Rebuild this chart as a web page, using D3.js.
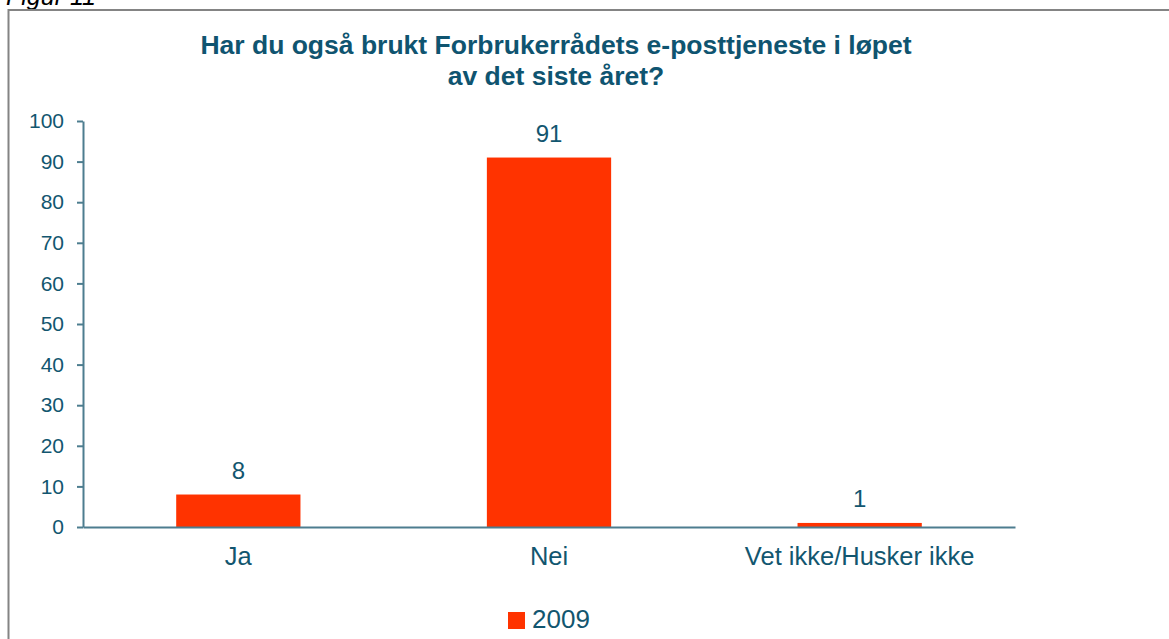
<!DOCTYPE html>
<html>
<head>
<meta charset="utf-8">
<script src="https://cdn.jsdelivr.net/npm/d3@7"></script>
<style>
  body { margin: 0; background: #fff; }
  svg { display: block; font-family: "Liberation Sans", Arial, sans-serif; }
</style>
</head>
<body>
<script>
const categories = ["Ja", "Nei", "Vet ikke/Husker ikke"];
const values2009 = [8, 91, 1];
const yTicks = [0, 10, 20, 30, 40, 50, 60, 70, 80, 90, 100];
const seriesName = "2009";
const titleLines = ["Har du også brukt Forbrukerrådets e-posttjeneste i løpet", "av det siste året?"];

const width = 1169, height = 639;
const textColor = "#12566f";
const axisColor = "#4d7d8f";
const barColor = "#ff3300";

const svg = d3.select("body").append("svg")
    .attr("width", width)
    .attr("height", height);

// caption, partly above the page in the original
svg.append("text")
    .attr("x", 6)
    .attr("y", 5)
    .style("font-size", "25px")
    .style("font-style", "italic")
    .attr("fill", "#000")
    .text("Figur 11");

// frame
svg.append("rect")
    .attr("x", 8.5)
    .attr("y", 10)
    .attr("width", 1200)
    .attr("height", 700)
    .attr("fill", "none")
    .attr("stroke", "#848484")
    .attr("stroke-width", 2);

const margin = { left: 83, right: 1015, top: 121, bottom: 527 };

const x = d3.scaleBand()
    .domain(categories)
    .range([margin.left, margin.right])
    .paddingInner(0.6)
    .paddingOuter(0.3);

const y = d3.scaleLinear()
    .domain([0, 100])
    .range([margin.bottom, margin.top]);

// title
svg.append("text")
    .attr("text-anchor", "middle")
    .attr("fill", "#0f5470")
    .style("font-size", "26.5px")
    .style("font-weight", "bold")
    .selectAll("tspan")
    .data(titleLines)
    .join("tspan")
    .attr("x", 556)
    .attr("y", (d, i) => 54 + i * 31)
    .text(d => d);

// bars
svg.selectAll("rect.bar")
    .data(values2009)
    .join("rect")
    .attr("class", "bar")
    .attr("x", (d, i) => x(categories[i]))
    .attr("width", x.bandwidth())
    .attr("y", d => y(d))
    .attr("height", d => y(0) - y(d))
    .attr("fill", barColor);

// value labels
svg.selectAll("text.val")
    .data(values2009)
    .join("text")
    .attr("class", "val")
    .attr("x", (d, i) => x(categories[i]) + x.bandwidth() / 2)
    .attr("y", d => y(d) - 16)
    .attr("text-anchor", "middle")
    .attr("fill", textColor)
    .style("font-size", "24px")
    .text(d => d);

// y axis
const yAxis = svg.append("g")
    .attr("transform", `translate(${margin.left},0)`)
    .call(d3.axisLeft(y).tickValues(yTicks).tickSize(6).tickPadding(13).tickSizeOuter(0));
yAxis.select(".domain").attr("stroke", axisColor).attr("stroke-width", 2);
yAxis.selectAll(".tick line").attr("stroke", axisColor).attr("stroke-width", 2);
yAxis.selectAll(".tick text")
    .attr("fill", textColor)
    .style("font-size", "21px")
    .style("font-family", "Liberation Sans, Arial, sans-serif");

// x axis
const xAxis = svg.append("g")
    .attr("transform", `translate(0,${margin.bottom})`)
    .call(d3.axisBottom(x).tickSize(0).tickPadding(20).tickSizeOuter(0));
xAxis.select(".domain").attr("stroke", axisColor).attr("stroke-width", 2);
xAxis.selectAll(".tick text")
    .attr("fill", textColor)
    .style("font-size", "25.5px")
    .style("font-family", "Liberation Sans, Arial, sans-serif");

// legend
const legend = svg.append("g").attr("transform", "translate(508,612)");
legend.append("rect")
    .attr("width", 17)
    .attr("height", 17)
    .attr("fill", barColor);
legend.append("text")
    .attr("x", 24)
    .attr("y", 16)
    .attr("fill", textColor)
    .style("font-size", "26px")
    .text(seriesName);
</script>
</body>
</html>
